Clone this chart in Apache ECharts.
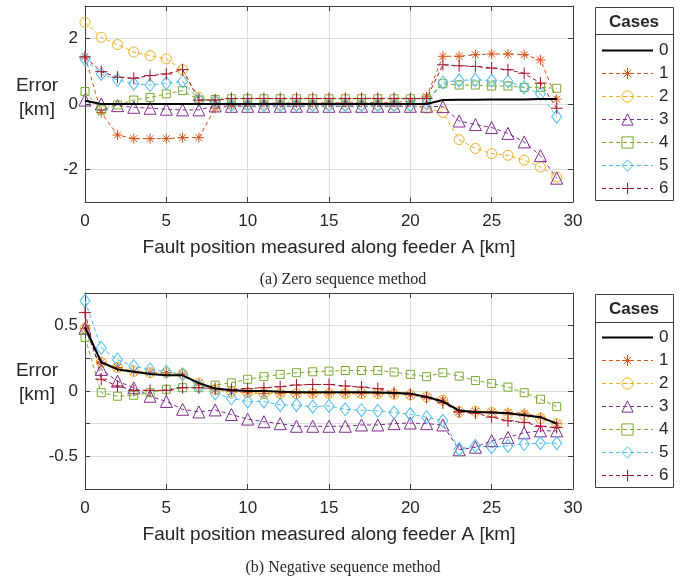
<!DOCTYPE html>
<html>
<head>
<meta charset="utf-8">
<script src="https://cdn.jsdelivr.net/npm/echarts@6/dist/echarts.min.js"></script>
<style>
  html, body { margin: 0; padding: 0; background: #fff; }
  #chart { width: 685px; height: 579px; }
</style>
</head>
<body>
<div id="chart"></div>
<script>
// fault positions along feeder A [km]
var positions = [0,1,2,3,4,5,6,7,8,9,10,11,12,13,14,15,16,17,18,19,20,21,22,23,24,25,26,27,28,29];
var caseNames = ['0','1','2','3','4','5','6'];

// (a) zero sequence method, error [km]
var zero0 = [0.1,0,0,0,0,0,0,0,0,0,0,0,0,0,0,0,0,0,0,0,0,0,0.12,0.13,0.13,0.14,0.14,0.14,0.15,0.15];
var zero1 = [1.46,-0.26,-0.95,-1.06,-1.06,-1.06,-1.03,-1.03,-0.13,-0.06,0.0,0.02,0.03,0.03,0.03,0.04,0.04,0.04,0.05,0.05,0.08,0.22,1.46,1.46,1.51,1.53,1.53,1.51,1.35,0.15];
var zero2 = [2.5,2.04,1.82,1.59,1.48,1.38,1.05,0.2,0.07,-0.02,-0.03,-0.03,-0.03,-0.03,-0.03,-0.03,-0.03,-0.03,-0.03,-0.04,-0.06,-0.13,-0.26,-1.09,-1.36,-1.52,-1.57,-1.72,-1.93,-2.24];
var zero3 = [0.12,0.0,-0.05,-0.1,-0.13,-0.16,-0.18,-0.18,-0.06,-0.07,-0.07,-0.07,-0.07,-0.07,-0.07,-0.07,-0.07,-0.07,-0.07,-0.07,-0.07,-0.07,-0.08,-0.52,-0.63,-0.72,-0.9,-1.16,-1.58,-2.27];
var zero4 = [0.38,-0.18,-0.03,0.12,0.2,0.31,0.41,0.12,0.14,0.16,0.16,0.16,0.16,0.16,0.16,0.16,0.16,0.16,0.16,0.16,0.16,0.16,0.62,0.58,0.58,0.55,0.55,0.51,0.51,0.48];
var zero5 = [1.37,0.92,0.74,0.62,0.58,0.64,0.69,0.12,0.07,-0.03,-0.03,-0.03,-0.03,-0.03,-0.03,-0.03,-0.03,-0.03,-0.03,-0.03,-0.03,0.02,0.66,0.72,0.74,0.72,0.69,0.51,0.31,-0.39];
var zero6 = [1.44,0.99,0.82,0.79,0.87,0.92,1.05,0.12,0.12,0.17,0.17,0.17,0.17,0.17,0.17,0.17,0.17,0.17,0.17,0.17,0.17,0.17,1.2,1.17,1.15,1.1,1.05,0.94,0.64,-0.13];

// (b) negative sequence method, error [km]
var neg0 = [0.49,0.22,0.165,0.147,0.13,0.12,0.12,0.06,0.02,0.005,0,0,-0.005,-0.01,-0.01,-0.01,-0.01,-0.01,-0.012,-0.015,-0.02,-0.045,-0.08,-0.15,-0.16,-0.165,-0.17,-0.185,-0.2,-0.25];
var neg1 = [0.48,0.22,0.18,0.15,0.14,0.14,0.13,0.06,0.01,-0.005,-0.013,-0.02,-0.02,-0.02,-0.02,-0.02,-0.02,-0.02,-0.02,-0.02,-0.03,-0.045,-0.07,-0.16,-0.155,-0.16,-0.165,-0.17,-0.2,-0.25];
var neg2 = [0.48,0.22,0.18,0.15,0.14,0.14,0.13,0.06,0.01,-0.005,-0.013,-0.02,-0.02,-0.02,-0.02,-0.02,-0.02,-0.02,-0.02,-0.025,-0.03,-0.045,-0.07,-0.16,-0.155,-0.165,-0.175,-0.185,-0.21,-0.25];
var neg3 = [0.48,0.165,0.075,0.025,-0.04,-0.08,-0.14,-0.16,-0.145,-0.18,-0.215,-0.235,-0.25,-0.27,-0.27,-0.27,-0.27,-0.26,-0.26,-0.25,-0.245,-0.25,-0.26,-0.45,-0.43,-0.38,-0.355,-0.32,-0.305,-0.305];
var neg4 = [0.41,-0.013,-0.04,-0.033,-0.013,0.013,0.025,0.025,0.045,0.063,0.09,0.11,0.127,0.14,0.147,0.152,0.157,0.157,0.157,0.145,0.127,0.11,0.14,0.114,0.08,0.058,0.03,-0.013,-0.063,-0.12];
var neg5 = [0.69,0.33,0.24,0.19,0.165,0.147,0.127,0.038,-0.018,-0.056,-0.08,-0.08,-0.107,-0.107,-0.12,-0.114,-0.14,-0.147,-0.152,-0.165,-0.178,-0.2,-0.228,-0.444,-0.42,-0.43,-0.42,-0.406,-0.4,-0.4];
var neg6 = [0.6,0.09,0.038,0.005,0.005,0.005,0.025,0.025,0.02,0.013,0.018,0.025,0.033,0.046,0.05,0.05,0.038,0.03,0.018,-0.013,-0.025,-0.05,-0.09,-0.16,-0.17,-0.2,-0.228,-0.24,-0.27,-0.28];

var xTicks = { min: 0, max: 30, interval: 5 };
var yTicksZero = [-2, 0, 2];
var yTicksNeg = [-0.5, 0, 0.5];

var zeroData = [zero0, zero1, zero2, zero3, zero4, zero5, zero6];
var negData = [neg0, neg1, neg2, neg3, neg4, neg5, neg6];

// matlab style
var colors = ['#000000', '#D95319', '#EDB120', '#7E2F8E', '#77AC30', '#4DBEEE', '#A2142F'];
var symbols = [
    'circle',
    'path://M5 0L5 10M0 5L10 5M1.6 1.6L8.4 8.4M1.6 8.4L8.4 1.6',
    'circle',
    'triangle',
    'rect',
    'diamond',
    'path://M5 0L5 10M0 5L10 5'
];
var sizes = [0, 10, 10, 12, 8, [10, 13], 12];

var FONT = 'Liberation Sans';
var axisColor = '#404040';
var textColor = '#262626';

function pairs(vals) {
    return positions.map(function (p, i) { return [p, vals[i]]; });
}

function makeSeries(dataList, xi, yi) {
    return dataList.map(function (vals, k) {
        return {
            name: caseNames[k],
            type: 'line',
            xAxisIndex: xi,
            yAxisIndex: yi,
            data: pairs(vals),
            symbol: symbols[k],
            symbolSize: sizes[k],
            showSymbol: k !== 0,
            emphasis: { disabled: true },
            lineStyle: { color: colors[k], width: k === 0 ? 2 : 1, type: k === 0 ? 'solid' : [4, 3] },
            itemStyle: {
                color: 'transparent',
                borderColor: k === 0 ? 'transparent' : colors[k],
                borderWidth: k === 0 ? 0 : 1
            },
            z: k === 0 ? 3 : 2
        };
    });
}

function xAxes(gi) {
    return [
        {
            gridIndex: gi, type: 'value', min: xTicks.min, max: xTicks.max, interval: xTicks.interval,
            position: 'bottom',
            axisLine: { onZero: false, lineStyle: { color: axisColor, width: 1 } },
            axisTick: { inside: true, length: 5, lineStyle: { color: axisColor } },
            axisLabel: { fontFamily: FONT, fontSize: 17, color: textColor, margin: 11 },
            splitLine: { show: true, lineStyle: { color: '#dedede', width: 1 } },
            name: 'Fault position measured along feeder A [km]',
            nameLocation: 'middle', nameGap: 36,
            nameTextStyle: { fontFamily: FONT, fontSize: 19, color: textColor }
        },
        {
            gridIndex: gi, type: 'value', min: xTicks.min, max: xTicks.max, interval: xTicks.interval,
            position: 'top',
            axisLine: { onZero: false, lineStyle: { color: axisColor, width: 1 } },
            axisTick: { inside: true, length: 5, lineStyle: { color: axisColor } },
            axisLabel: { show: false },
            splitLine: { show: false }
        }
    ];
}

var yAxes = [
    {
        gridIndex: 0, type: 'value', min: -3, max: 3, position: 'left',
        axisLine: { show: true, onZero: false, lineStyle: { color: axisColor, width: 1 } },
        axisTick: { show: true, inside: true, length: 5, customValues: yTicksZero, lineStyle: { color: axisColor } },
        axisLabel: { customValues: yTicksZero, fontFamily: FONT, fontSize: 17, color: textColor, margin: 7 },
        splitLine: { show: true, lineStyle: { color: '#dedede', width: 1 } }
    },
    {
        gridIndex: 0, type: 'value', min: -3, max: 3, position: 'right',
        axisLine: { show: true, onZero: false, lineStyle: { color: axisColor, width: 1 } },
        axisTick: { show: true, inside: true, length: 5, customValues: yTicksZero, lineStyle: { color: axisColor } },
        axisLabel: { show: false },
        splitLine: { show: false }
    },
    {
        gridIndex: 1, type: 'value', min: -0.75, max: 0.75, interval: 0.25, position: 'left',
        axisLine: { show: true, onZero: false, lineStyle: { color: axisColor, width: 1 } },
        axisTick: { show: true, inside: true, length: 5, lineStyle: { color: axisColor } },
        axisLabel: { customValues: yTicksNeg, fontFamily: FONT, fontSize: 17, color: textColor, margin: 7 },
        splitLine: { show: true, lineStyle: { color: '#dedede', width: 1 } }
    },
    {
        gridIndex: 1, type: 'value', min: -0.75, max: 0.75, interval: 0.25, position: 'right',
        axisLine: { show: true, onZero: false, lineStyle: { color: axisColor, width: 1 } },
        axisTick: { show: true, inside: true, length: 5, lineStyle: { color: axisColor } },
        axisLabel: { show: false },
        splitLine: { show: false }
    }
];

function legendFor(top) {
    return {
        data: caseNames,
        orient: 'vertical',
        left: 601,
        top: top,
        padding: 0,
        itemWidth: 51,
        itemHeight: 14,
        itemGap: 6,
        selectedMode: false,
        itemStyle: { borderWidth: 1 },
        lineStyle: { width: 'inherit' },
        textStyle: { fontFamily: FONT, fontSize: 17, color: textColor, padding: [0, 0, 0, 1] }
    };
}

function legendBox(y, h, sepY) {
    return [
        { type: 'rect', shape: { x: 595.5, y: y + 0.5, width: 78, height: h }, style: { fill: '#fff', stroke: axisColor, lineWidth: 1 }, z: -1 },
        { type: 'line', shape: { x1: 595.5, y1: sepY + 0.5, x2: 673.5, y2: sepY + 0.5 }, style: { stroke: axisColor, lineWidth: 1 } }
    ];
}

function textEl(str, x, y, size, family, weight) {
    return {
        type: 'text', x: x, y: y,
        style: { text: str, fontFamily: family, fontSize: size, fontWeight: weight || 'normal', fill: textColor, textAlign: 'center', textVerticalAlign: 'middle' }
    };
}

var chart = echarts.init(document.getElementById('chart'), null, { renderer: 'canvas' });

chart.setOption({
    animation: false,
    backgroundColor: '#fff',
    grid: [
        { left: 85, top: 6, width: 488, height: 196, outerBoundsMode: 'none', containLabel: false },
        { left: 85, top: 293, width: 488, height: 196, outerBoundsMode: 'none', containLabel: false }
    ],
    xAxis: xAxes(0).concat(xAxes(1)),
    yAxis: yAxes,
    legend: [legendFor(42), legendFor(329)],
    series: makeSeries(zeroData, 0, 0).concat(makeSeries(negData, 2, 2)),
    graphic: [].concat(
        legendBox(7, 193, 34),
        legendBox(294, 193, 322),
        [
            textEl('Cases', 634, 22, 17, FONT, 'bold'),
            textEl('Cases', 634, 309, 17, FONT, 'bold'),
            textEl('Error', 37, 86, 19, FONT),
            textEl('[km]', 37, 110, 19, FONT),
            textEl('Error', 37, 371, 19, FONT),
            textEl('[km]', 37, 395, 19, FONT),
            textEl('(a) Zero sequence method', 343, 280, 16, 'Liberation Serif'),
            textEl('(b) Negative sequence method', 343, 568, 16, 'Liberation Serif')
        ]
    )
});

window.addEventListener('resize', function () { chart.resize(); });
</script>
</body>
</html>
